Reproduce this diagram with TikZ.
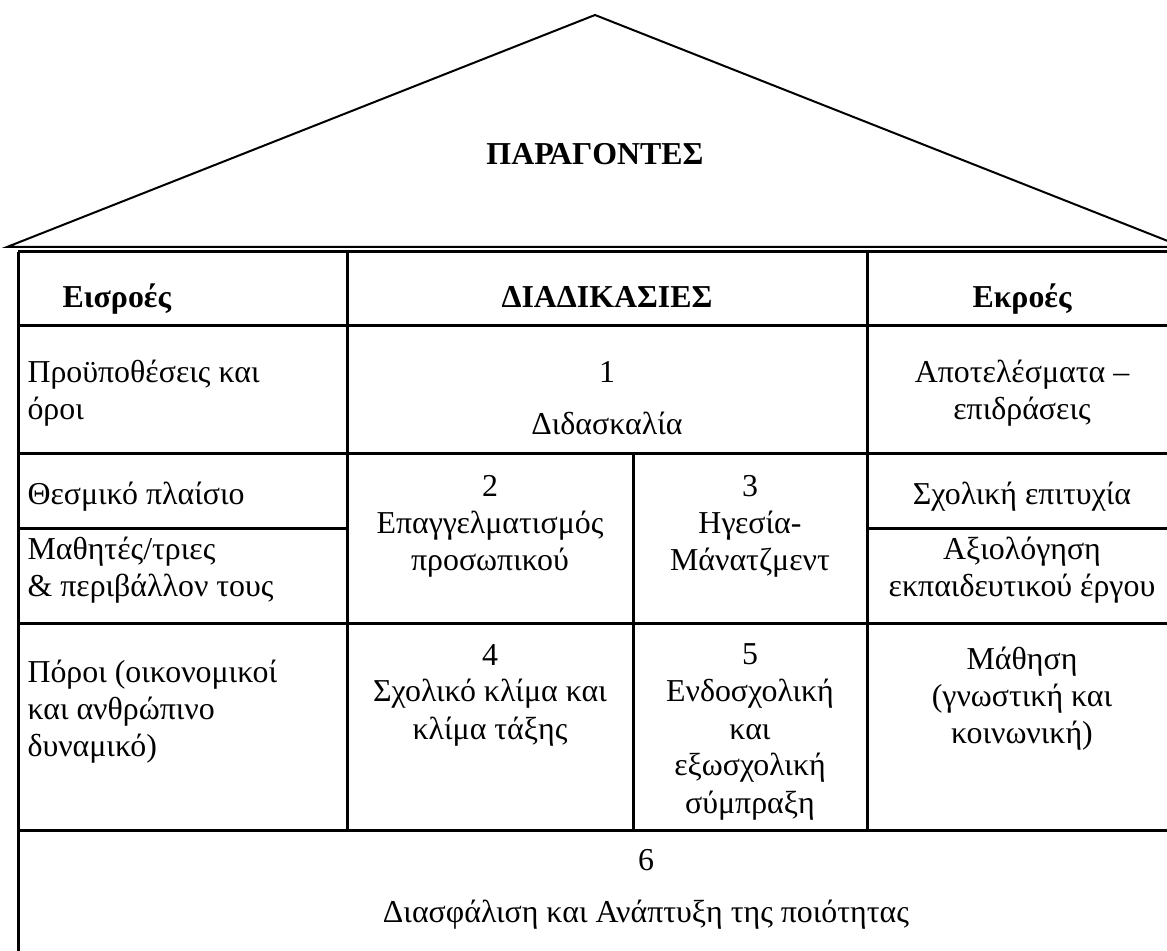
\documentclass[tikz,border=0pt]{standalone}
\usepackage{fontspec}
\setmainfont{Liberation Serif}
\usepackage{tikz}
\usetikzlibrary{positioning, calc}

\begin{document}
\begin{tikzpicture}[
    x=0.4pt, y=-0.4pt,
    font=\fontsize{12.75}{14.8}\selectfont,
    grid/.style={line width=1.2pt, black},
    roof/.style={line width=0.8pt, black},
    cell/.style={inner sep=0pt, anchor=base, align=center},
    lcell/.style={inner sep=0pt, anchor=base west, align=left},
    head/.style={inner sep=0pt, anchor=base, font=\fontsize{12.75}{14.8}\selectfont\bfseries}
]
\clip (0,0) rectangle (1167,951);

% roof
\coordinate (apex) at (595,15);
\coordinate (eaveL) at (7,247);
\coordinate (eaveR) at (1183,247);
\draw[roof, line join=miter] (eaveL) -- (apex) -- (eaveR) -- cycle;
\node[head] (factors) at (595,165) {ΠΑΡΑΓΟΝΤΕΣ};

% table grid
\foreach \y in {252, 326, 454, 624, 830}
    \draw[grid] (18,\y) -- (1177,\y);
\draw[grid] (18,529) -- (347,529);
\draw[grid] (867,529) -- (1177,529);
\foreach \x in {18, 1177}
    \draw[grid] (\x,252) -- (\x,960);
\foreach \x in {347, 867}
    \draw[grid] (\x,252) -- (\x,830);
\draw[grid] (633,454) -- (633,830);

% header (base = last line)
\node[head, anchor=base west] (inHead)  at (62,308)   {Εισροές};
\node[head]                   (prHead)  at (607,308)  {ΔΙΑΔΙΚΑΣΙΕΣ};
\node[head]                   (outHead) at (1022,308) {Εκροές};

% inputs
\node[lcell] (in1) at (27,420) {Προϋποθέσεις και\\όροι};
\node[lcell] (in2) at (27,505) {Θεσμικό πλαίσιο};
\node[lcell] (in3) at (27,597) {Μαθητές/τριες\\\& περιβάλλον τους};
\node[lcell] (in4) at (27,756) {Πόροι (οικονομικοί\\και ανθρώπινο\\δυναμικό)};

% processes
\node[cell] (pr1) at (607,435) {1\\[6pt]Διδασκαλία};
\node[cell] (pr2) at (490,571) {2\\Επαγγελματισμός\\προσωπικού};
\node[cell] (pr3) at (750,571) {3\\Ηγεσία-\\Μάνατζμεντ};
\node[cell] (pr4) at (490,739) {4\\Σχολικό κλίμα και\\κλίμα τάξης};
\node[cell] (pr5) at (750,813) {5\\Ενδοσχολική\\και\\εξωσχολική\\σύμπραξη};
\node[cell] (pr6) at (646,922) {6\\[6pt]Διασφάλιση και Ανάπτυξη της ποιότητας};

% outputs
\node[cell] (out1) at (1022,420) {Αποτελέσματα –\\επιδράσεις};
\node[cell] (out2) at (1022,505) {Σχολική επιτυχία};
\node[cell] (out3) at (1022,597) {Αξιολόγηση\\εκπαιδευτικού έργου};
\node[cell] (out4) at (1022,744) {Μάθηση\\(γνωστική και\\κοινωνική)};
\end{tikzpicture}
\end{document}
